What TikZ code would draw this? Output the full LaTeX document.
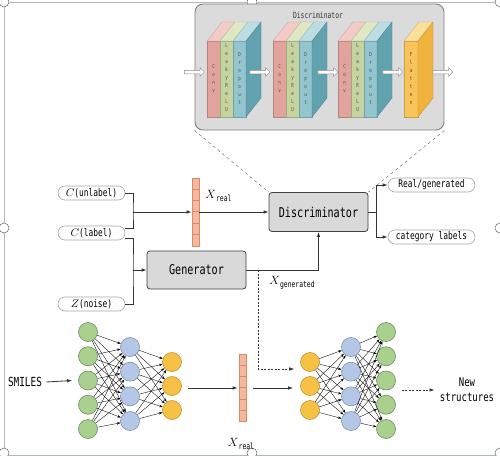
\documentclass[tikz,border=0pt]{standalone}
\usepackage{fontspec}
\usetikzlibrary{positioning,arrows.meta,shapes.arrows}
\newfontfamily\cnmono[FakeStretch=0.75]{DejaVu Sans Mono}

\definecolor{convred}{HTML}{E3A39D}
\definecolor{convtop}{HTML}{F3CBC6}
\definecolor{reluGreen}{HTML}{C5D49E}
\definecolor{reluTop}{HTML}{DFE8C3}
\definecolor{dropBlue}{HTML}{93C5CE}
\definecolor{dropTop}{HTML}{BCDDE3}
\definecolor{dropSide}{HTML}{62A2AE}
\definecolor{flatFront}{HTML}{F8C45A}
\definecolor{flatTop}{HTML}{FBE09C}
\definecolor{flatSide}{HTML}{F0B43E}
\definecolor{nGreen}{HTML}{A9D08E}
\definecolor{nGreenLine}{HTML}{6E8E57}
\definecolor{nBlue}{HTML}{B4C7E7}
\definecolor{nBlueLine}{HTML}{7A8EAD}
\definecolor{nOrange}{HTML}{F7C145}
\definecolor{nOrangeLine}{HTML}{BF9230}
\definecolor{barfill}{HTML}{F4B89C}
\definecolor{barline}{HTML}{D9886A}
\definecolor{framegray}{HTML}{B4B6C4}

\begin{document}
\begin{tikzpicture}[x=1pt, y=-1pt, line width=0.8pt,
  box node/.style={draw=black!75, fill=black!15, rounded corners=3pt, minimum width=99pt,
    minimum height=39pt, inner sep=0pt, font=\cnmono\fontsize{13.5}{14}\selectfont},
  pill node/.style={draw=black!35, fill=white, rounded corners=7pt, minimum height=14pt,
    inner sep=0pt, line width=0.6pt, font=\cnmono\fontsize{10.5}{11}\selectfont},
  arr/.style={draw=black!80, -{Latex[length=5pt,width=3.5pt]}},
  wire/.style={draw=black!80},
  neuron/.style={circle, draw, minimum size=19pt, inner sep=0pt, line width=0.6pt},
  synapse/.style={line width=0.35pt, -{Stealth[length=3.5pt,width=2.5pt]}},
  bar node/.style={draw=barline, fill=barfill, minimum width=7pt, inner sep=0pt, line width=0.6pt},
  flow arrow/.style={single arrow, draw=black!45, fill=white, minimum height=20pt,
    single arrow head extend=2.5pt, inner sep=1.5pt, line width=0.5pt},
  layer text/.style={font=\cnmono\fontsize{5.5}{8}\selectfont, align=center, text=black!70, inner sep=0pt},
  handle/.style={circle, draw=black!60, fill=white, minimum size=10pt, inner sep=0pt, line width=0.5pt}]

\useasboundingbox (0,0) rectangle (500,455);

% selection frame
\draw[framegray, line width=0.7pt] (4,2) rectangle (500,455);
\foreach \hx/\hy [count=\h] in {4/2, 252/2, 500/2, 4/228, 500/228, 4/453, 252/453, 500/453}
  \node[handle] (hd\h) at (\hx,\hy) {};

% discriminator detail
\node[draw=black!50, fill=black!14, rounded corners=8pt, minimum width=249pt,
  minimum height=126pt, line width=0.9pt] (panel) at (319.5,67) {};
\node[font=\cnmono\fontsize{8.5}{9}\selectfont, text=black!80] (dtitle) at (318,15) {Discriminator};

\foreach \bx in {207,273,338} {
  \foreach \i/\fc/\tc/\word in {0/convred/convtop/{C\\o\\n\\v},
      1/reluGreen/reluTop/{L\\e\\a\\k\\y\\R\\e\\L\\U},
      2/dropBlue/dropTop/{D\\r\\o\\p\\o\\u\\t}} {
    \pgfmathsetmacro\lx{\bx+13*\i}
    \filldraw[fill=\fc, draw=\fc!80!black, line width=0.3pt] (\lx,41) rectangle ++(13,76);
    \filldraw[fill=\tc, draw=\tc!80!black, line width=0.3pt] (\lx,41) -- ++(15,-19) -- ++(13,0) -- ++(-15,19) -- cycle;
    \node[layer text] at (\lx+6.5,78) {\word};
  }
  \filldraw[fill=dropSide, draw=dropSide!80!black, line width=0.3pt] (\bx+39,41) -- ++(15,-19) -- ++(0,76) -- ++(-15,19) -- cycle;
}
\filldraw[fill=flatFront, draw=flatFront!80!black, line width=0.3pt] (404,41) rectangle ++(14,76);
\filldraw[fill=flatTop, draw=flatTop!80!black, line width=0.3pt] (404,41) -- ++(15,-19) -- ++(14,0) -- ++(-15,19) -- cycle;
\filldraw[fill=flatSide, draw=flatSide!80!black, line width=0.3pt] (418,41) -- ++(15,-19) -- ++(0,76) -- ++(-15,19) -- cycle;
\node[layer text] at (411,78) {F\\l\\a\\t\\t\\e\\n};

\foreach \ax [count=\k] in {193.5,259,327,392,442}
  \node[flow arrow] (flow\k) at (\ax,72) {};

% GAN part
\node[box node] (disc) at (318.5,212) {Discriminator};
\node[box node, minimum height=38pt] (gen) at (196.5,270) {Generator};

\node[pill node, minimum width=67pt] (cu) at (91.5,193) {$C$(unlabel)};
\node[pill node, minimum width=67pt] (cl) at (91.5,233) {$C$(label)};
\node[pill node, minimum width=67pt] (zn) at (91.5,304) {$Z$(noise)};
\node[pill node, minimum width=87pt] (rg) at (431.5,185) {Real/generated};
\node[pill node, minimum width=87pt] (cat) at (431.5,237) {category labels};

\node[bar node, minimum height=68pt] (xreal) at (195.5,212) {};
\foreach \k in {1,...,5}
  \draw[barline, line width=0.6pt] ([yshift={-\k*68/6}]xreal.north west) -- ([yshift={-\k*68/6}]xreal.north east);
\node[anchor=west, inner sep=0pt, font=\fontsize{12}{12}\selectfont] (xrl) at (205,196)
  {$X$\raisebox{-3pt}{\cnmono\fontsize{8.5}{9}\selectfont real}};
\node[anchor=west, inner sep=0pt, font=\fontsize{12}{12}\selectfont] (xgl) at (269,283)
  {$X$\raisebox{-3pt}{\cnmono\fontsize{8.5}{9}\selectfont generated}};

\draw[dashed, black!55, line width=0.5pt] (panel.south west) -- (disc.north west);
\draw[dashed, black!55, line width=0.5pt] (panel.south east) -- (disc.north east);

\coordinate (j1) at (133,212);
\coordinate (j2) at (133,270);
\coordinate (j3) at (376,212);
\draw[wire] (cu.east) -| (j1) |- ([yshift=5pt]cl.east);
\draw[wire] ([yshift=-5pt]cl.east) -| (j2) |- (zn.east);
\draw[arr] (j1) -- (xreal.west);
\draw[arr] (j2) -- (gen.west);
\draw[arr] (xreal.east) -- (disc.west);
\draw[arr] (gen.east) -| (disc.south);
\draw[wire] (disc.east) -- (j3);
\draw[arr] (j3) |- (rg.west);
\draw[arr] (j3) |- (cat.west);

% encoder / decoder networks
\foreach \i in {1,...,5}
  \node[neuron, fill=nGreen, draw=nGreenLine] (lg\i) at (88,{332+24.25*(\i-1)}) {};
\foreach \i in {1,...,4}
  \node[neuron, fill=nBlue, draw=nBlueLine] (lb\i) at (130,{347+24.67*(\i-1)}) {};
\foreach \i in {1,...,3}
  \node[neuron, fill=nOrange, draw=nOrangeLine] (lo\i) at (172,{362+24*(\i-1)}) {};
\foreach \i in {1,...,3}
  \node[neuron, fill=nOrange, draw=nOrangeLine] (ro\i) at (310,{362+24*(\i-1)}) {};
\foreach \i in {1,...,4}
  \node[neuron, fill=nBlue, draw=nBlueLine] (rb\i) at (351,{347+24.67*(\i-1)}) {};
\foreach \i in {1,...,5}
  \node[neuron, fill=nGreen, draw=nGreenLine] (rg\i) at (386,{332+24.25*(\i-1)}) {};

\foreach \i in {1,...,5} \foreach \j in {1,...,4} \draw[synapse] (lg\i) -- (lb\j);
\foreach \i in {1,...,4} \foreach \j in {1,...,3} \draw[synapse] (lb\i) -- (lo\j);
\foreach \i in {1,...,3} \foreach \j in {1,...,4} \draw[synapse] (ro\i) -- (rb\j);
\foreach \i in {1,...,4} \foreach \j in {1,...,5} \draw[synapse] (rb\i) -- (rg\j);

\node[bar node, minimum height=67pt] (xrb) at (242.5,388) {};
\foreach \k in {1,...,5}
  \draw[barline, line width=0.6pt] ([yshift={-\k*67/6}]xrb.north west) -- ([yshift={-\k*67/6}]xrb.north east);
\node[inner sep=0pt, font=\fontsize{12}{12}\selectfont] (xbl) at (241,444)
  {$X$\raisebox{-3pt}{\cnmono\fontsize{8.5}{9}\selectfont real}};

\node[font=\cnmono\fontsize{12.5}{13}\selectfont, inner sep=0pt] (smiles) at (25,382) {SMILES};
\node[font=\cnmono\fontsize{12}{15}\selectfont, align=center, inner sep=0pt] (newstr) at (467,390) {New\\structures};

\draw[arr] ([xshift=4pt]smiles.east) -- ([xshift=-6pt]lg3.west);
\draw[arr, shorten <=6pt, shorten >=1pt] (lo2.east |- xrb.west) -- (xrb.west);
\draw[arr, shorten <=7pt, shorten >=7pt] (xrb.east) -- (xrb.east -| ro2.west);
\draw[arr, dash pattern=on 2pt off 1.5pt, line width=0.6pt] (gen.east) ++(12,0) |- ([xshift=-6pt,yshift=-7pt]ro1.west);
\draw[arr, dash pattern=on 2pt off 1.5pt, line width=0.6pt, shorten <=6pt, shorten >=5pt] (rg3.east |- newstr.west) -- (newstr.west);
\end{tikzpicture}
\end{document}
